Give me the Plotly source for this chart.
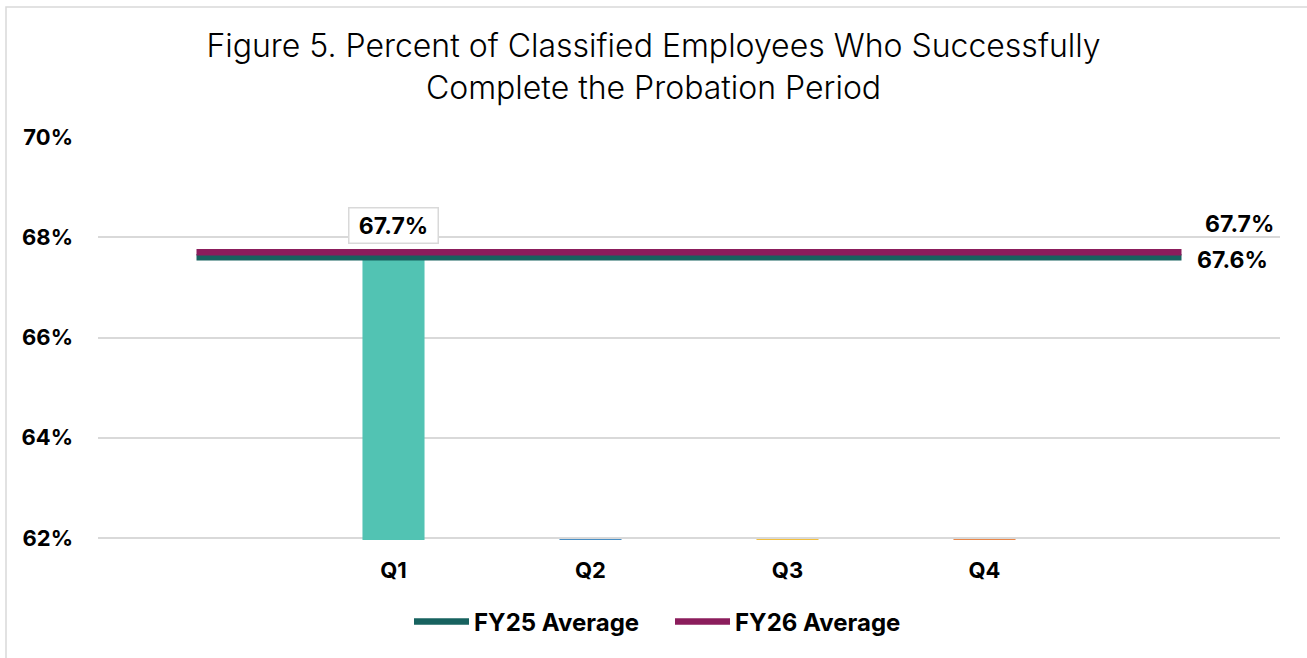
import plotly.graph_objects as go

# data
quarters = ["Q1", "Q2", "Q3", "Q4"]
completion = [67.7, 0, 0, 0]
quarter_colors = ["#52C3B3", "#4A8FC4", "#F2BF3D", "#E9874A"]
fy25_avg = 67.6
fy26_avg = 67.7
y_ticks = [62, 64, 66, 68, 70]

# padding categories either side so the average lines span past the bars
cats = [""] + quarters + [" "]
y_min, y_max = 61.96, 70

fig = go.Figure()

for q, v, c in zip(quarters, completion, quarter_colors):
    fig.add_trace(go.Bar(
        x=[q], y=[v if v else 0.02], base=None if v else y_min,
        marker_color=c, marker_line_width=0, width=0.315,
        showlegend=False, hoverinfo="skip"))

fig.add_trace(go.Scatter(x=[cats[0], cats[-1]], y=[fy25_avg, fy25_avg], mode="lines",
                         line=dict(color="#17625F", width=6.5), name="FY25 Average"))
fig.add_trace(go.Scatter(x=[cats[0], cats[-1]], y=[fy26_avg, fy26_avg], mode="lines",
                         line=dict(color="#8B1D5C", width=6.5), name="FY26 Average"))

lbl_font = dict(family="Inter", size=23, color="#000000", weight=700)

# bar label with box
fig.add_annotation(x=quarters[0], y=completion[0], text=f"{completion[0]:.1f}%",
                   showarrow=False, yanchor="bottom", yshift=8, font=lbl_font,
                   width=80, height=26, align="center", valign="middle",
                   bordercolor="#D9D9D9", borderwidth=1.5, borderpad=4, bgcolor="white")
# line end labels
fig.add_annotation(x=cats[-1], y=fy26_avg, text=f"{fy26_avg:.1f}%", showarrow=False,
                   xanchor="left", xshift=21, yshift=28, font=lbl_font)
fig.add_annotation(x=cats[-1], y=fy25_avg, text=f"{fy25_avg:.1f}%", showarrow=False,
                   xanchor="left", xshift=13, yshift=-3, font=lbl_font)

# outer chart border
fig.add_shape(type="rect", xref="paper", yref="paper",
              x0=-92 / 1182, x1=1.03, y0=-0.3, y1=1 + 130 / 403,
              line=dict(color="#D9D9D9", width=1.5), layer="below")

fig.update_layout(
    width=1307, height=658,
    margin=dict(l=98, r=27, t=137, b=118, autoexpand=False),
    paper_bgcolor="white", plot_bgcolor="white",
    title=dict(text="Figure 5. Percent of Classified Employees Who Successfully<br>Complete the Probation Period",
               x=0.5, xanchor="center", y=1 - 57 / 658, yanchor="top",
               font=dict(family="Inter", size=32, color="#000000", weight=300)),
    font=dict(family="Inter", color="#000000"),
    barmode="overlay",
    showlegend=True,
    legend=dict(orientation="h", x=(409 - 98) / 1182, xanchor="left", y=-82 / 403, yanchor="middle",
                font=dict(family="Inter", size=24, color="#000000", weight=700),
                itemwidth=55, entrywidth=191, tracegroupgap=0),
)

fig.update_xaxes(type="category", categoryorder="array", categoryarray=cats,
                 range=[-0.5, len(cats) - 0.5], showgrid=False, showline=False,
                 zeroline=False, ticks="", ticklabelstandoff=15,
                 tickfont=dict(family="Inter", size=22, color="#000000", weight=700))
fig.update_yaxes(range=[y_min, y_max], tickvals=y_ticks,
                 ticktext=[f"{t}%" for t in y_ticks],
                 showgrid=True, gridcolor="#D9D9D9", gridwidth=1.5,
                 zeroline=False, showline=False, ticks="", ticklabelstandoff=24,
                 tickfont=dict(family="Inter", size=22, color="#000000", weight=700))

# drop the default body margin so the figure sits at the page corner
fig.write_html("out.html", config={"displayModeBar": False},
               post_script="document.body.style.margin='0';")
